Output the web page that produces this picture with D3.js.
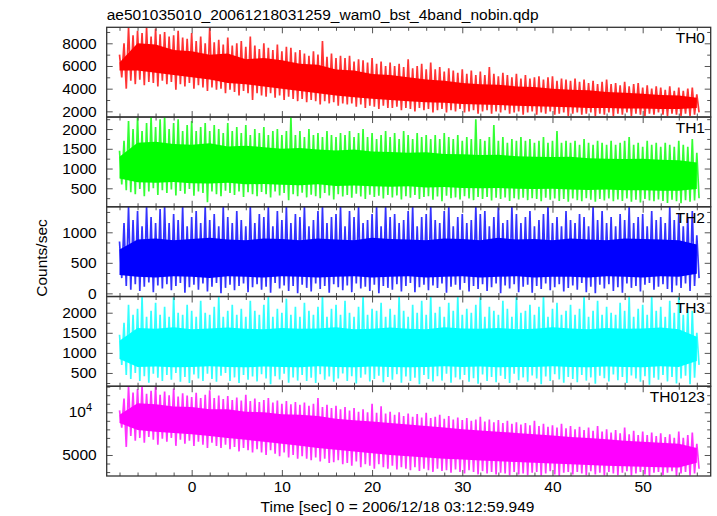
<!DOCTYPE html>
<html><head><meta charset="utf-8">
<script src="https://cdn.jsdelivr.net/npm/d3@7"></script>
<style>
body{margin:0;background:#fff}
svg{display:block}
text{font-family:"Liberation Sans",Arial,Helvetica,sans-serif;fill:#000}
</style>
</head><body>
<svg id="c" width="717" height="516"></svg>
<script>
const titleText = "ae501035010_20061218031259_wam0_bst_4band_nobin.qdp";
const xLabelText = "Time [sec] 0 = 2006/12/18 03:12:59.949";
const yLabelText = "Counts/sec";
const panelNames = ["TH0", "TH1", "TH2", "TH3", "TH0123"];
const panelColors = ["#ff0000", "#00ff00", "#0000ff", "#00ffff", "#ff00ff"];

// spike-envelope samples every 0.5 s from -8 s; dense core band every 2 s from -8 s
const tStart = -8, tStep = 0.5, coreStep = 2;

// ---- TH0 ----
const th0Hi = [7000,8000,9400,8700,9100,8900,9400,8600,9300,8800,
  9000,8600,8700,9100,8500,8400,8900,8200,8600,8000,
  9400,8100,8300,7900,8500,7800,8000,8200,7700,8600,
  7800,7500,8000,7600,7400,7900,7300,7700,7600,7200,
  7400,7100,6900,7300,7000,8200,6800,7100,6700,6900,
  6700,6900,6400,6600,6500,6300,6700,6200,6400,6000,
  6300,6000,6200,5900,6600,5800,6000,6200,5700,6300,
  5700,5900,5500,5800,5600,5400,5700,5300,5600,5200,
  5500,5200,5900,5300,5100,5400,5200,5000,5300,4900,
  5200,4900,5000,5100,4800,5000,5100,4700,4900,4800,
  4700,4900,4600,4800,4500,4700,4400,4600,4800,4400,
  4500,4300,4600,4200,4400,4500,4100,4300,4000,4200,
  4100,3900,4200,3800,4100,3800,4000,4100,3500];
const th0Lo = [5000,4000,4700,4400,4800,4300,4600,4500,4200,4700,
  4400,4600,3900,4400,4200,4500,4000,4300,4100,3800,
  4100,3900,4000,3600,3900,3700,3400,3800,3600,3000,
  3600,3400,3300,3600,3200,3400,3000,3300,3100,2900,
  3100,2800,3000,2900,2600,2900,2700,2800,2500,2700,
  2600,2700,2400,2600,2300,2500,2400,2200,2500,2300,
  2300,2400,2100,2300,2200,2000,2300,2100,2200,1900,
  2100,2200,1900,2100,2000,2200,1900,2000,2100,1800,
  2000,2100,1800,2000,1900,2100,1800,1900,2000,1700,
  1900,2000,1700,1900,1800,2000,1700,1800,1900,1600,
  1800,1900,1700,1800,1900,1600,1800,1700,1900,1600,
  1800,1700,1900,1600,1800,1700,1600,1800,1700,1900,
  1700,1600,1800,1700,1600,1800,1600,1700,1900];
const th0CoreHi = [6300,8000,7900,7400,7300,7000,7100,6600,6700,6500,6200,6100,5700,5600,5300,5200,5000,
  4800,4700,4500,4400,4350,4200,4150,4000,3900,3850,3700,3650,3550,3450,3400,3200];
const th0CoreLo = [5600,5600,5400,5200,5000,4800,4500,4400,4200,4000,3800,3600,3400,3250,3100,3000,2900,
  2800,2750,2650,2600,2550,2500,2450,2400,2350,2300,2300,2250,2250,2200,2200,2300];

// ---- TH1 ----
const th1Hi = [1450,1700,2200,2000,2300,1950,2150,2310,2050,2250,
  2310,2000,2150,2250,1950,2100,2200,1950,2050,2150,
  1950,2100,2000,1900,2150,1950,2050,1900,2100,1850,
  2000,1900,2050,1850,1950,2000,1850,1950,2310,1850,
  1950,1800,2000,1850,1900,1800,1950,1850,1800,1900,
  1850,1950,1800,1900,2000,1800,1900,1750,1850,1950,
  1800,1900,1750,1950,1850,1750,1900,1800,1850,1750,
  1850,1750,1900,1800,1750,1850,1700,1800,1750,2250,
  1750,1700,1800,2100,1700,1800,1650,1750,1700,1800,
  1700,1750,1650,1700,1800,1650,1700,1950,1650,1700,
  1650,1700,1600,1750,1650,1600,1700,1650,1600,1700,
  1600,1650,1700,1800,1600,1650,1550,1700,1600,1650,
  1550,1650,1600,1550,1700,1600,1550,1750,1400];
const th1Lo = [600,450,400,350,480,300,420,500,330,450,
  380,470,320,430,360,480,310,420,380,150,
  420,350,300,440,380,330,420,280,400,350,
  300,410,350,270,420,320,380,200,350,300,
  390,270,340,300,250,380,320,220,350,290,
  330,260,360,290,230,340,280,310,240,330,
  270,320,220,300,260,330,230,280,300,210,
  290,170,310,250,270,220,300,240,200,280,
  230,280,190,260,230,270,180,250,220,260,
  200,250,230,170,260,210,240,180,230,160,
  240,200,170,250,210,160,230,190,240,170,
  220,180,240,160,210,140,230,190,170,220,
  180,130,210,170,120,200,160,190,250];
const th1CoreHi = [1300,1650,1680,1620,1600,1640,1560,1580,1540,1500,1520,1480,1460,1480,1430,1420,1400,
  1410,1370,1360,1340,1350,1310,1300,1290,1300,1260,1250,1240,1250,1220,1210,1150];
const th1CoreLo = [750,650,640,660,630,620,640,600,610,590,580,600,560,570,550,540,550,
  520,530,510,500,510,490,480,490,470,460,470,450,450,440,440,480];

// ---- TH2 ----
const th2Hi = [850,1150,1420,1200,1350,1100,1420,1250,1150,1380,
  1420,1150,1300,1200,1420,1100,1250,1350,1150,1420,
  1200,1300,1100,1420,1250,1150,1350,1200,1100,1420,
  1150,1300,1250,1420,1100,1350,1200,1420,1150,1300,
  1250,1420,1100,1200,1350,1420,1150,1250,1300,1420,
  1100,1350,1250,1420,1150,1200,1300,1420,1100,1420,
  1250,1300,1150,1200,1350,1420,1100,1250,1300,1420,
  1200,1150,1350,1420,1100,1250,1300,1150,1200,1420,
  1300,1350,1100,1250,1420,1150,1200,1420,1300,1150,
  1250,1350,1100,1200,1300,1420,1150,1250,1100,1350,
  1200,1150,1300,1250,1100,1420,1200,1350,1150,1250,
  1100,1300,1200,1420,1150,1250,1300,1100,1350,1200,
  1250,1150,1420,1200,1300,1100,1250,1350,950];
const th2Lo = [250,120,60,150,40,110,180,20,130,80,
  150,50,120,170,10,100,140,60,160,30,
  110,170,0,90,140,50,120,160,20,100,
  150,60,110,10,170,80,130,40,120,0,
  140,90,30,160,70,120,10,150,100,50,
  130,20,160,80,110,40,140,0,120,90,
  60,150,30,120,170,20,100,140,50,130,
  90,160,10,110,140,60,170,30,120,70,
  150,40,100,160,0,130,80,150,20,110,
  140,10,120,70,160,50,100,150,30,90,
  130,60,170,20,110,0,140,80,150,40,
  100,10,160,90,120,30,140,170,60,110,
  150,70,20,130,90,160,40,120,250];
const th2CoreHi = [720,880,900,870,890,910,880,870,900,890,870,900,880,870,910,890,880,
  870,900,890,870,910,880,890,870,900,880,870,900,890,880,870,800];
const th2CoreLo = [300,270,260,280,270,250,280,270,260,280,270,260,270,280,260,270,280,
  260,270,280,260,270,280,260,270,270,260,280,270,260,280,270,320];

// ---- TH3 ----
const th3Hi = [1450,1750,2200,1950,2100,2403,1900,2050,2250,1950,
  2150,1900,2403,2000,1950,2200,2050,1900,2300,2000,
  1950,2150,2403,1900,2050,2200,1950,2100,1900,2300,
  2050,1950,2200,2403,1900,2100,2000,2350,1950,2150,
  1900,2250,2050,1950,2150,2403,1900,2100,2200,1950,
  2300,2000,1900,2150,2403,1950,2100,2050,2250,1900,
  2100,1950,2403,2050,1900,2200,2000,2300,1950,2403,
  2000,2150,1900,2250,2050,2403,1950,2100,2000,2200,
  2403,1900,2150,2050,1950,2300,2100,1900,2403,2000,
  2050,2200,1950,2150,2403,1900,2100,2250,1950,2050,
  2200,1950,2100,2403,1900,2050,2300,1950,2150,2000,
  1950,2250,2050,2403,1900,2100,2200,1950,2403,2050,
  2150,1900,2300,2000,2403,1950,2100,2050,1500];
const th3Lo = [700,450,350,500,300,420,260,480,380,300,
  450,330,500,280,400,250,460,360,300,480,
  350,280,430,500,300,390,250,450,330,410,
  290,470,360,220,420,340,480,260,390,310,
  450,300,380,250,470,330,410,280,360,490,
  300,420,240,380,460,290,350,430,270,400,
  330,470,260,410,300,380,220,450,350,290,
  420,310,480,260,390,340,450,280,370,230,
  460,300,400,270,430,350,250,480,320,390,
  280,440,360,220,410,300,470,340,260,400,
  350,270,450,310,390,230,430,370,290,460,
  320,400,250,440,360,280,420,210,380,330,
  450,290,400,240,360,430,220,380,700];
const th3CoreHi = [1300,1620,1600,1640,1590,1610,1630,1600,1590,1620,1600,1610,1640,1590,1600,1630,1600,
  1590,1640,1610,1600,1620,1590,1600,1640,1610,1590,1620,1600,1610,1630,1590,1400];
const th3CoreLo = [850,650,660,640,650,670,650,640,660,650,640,670,650,640,660,650,640,
  650,670,650,660,640,650,650,670,650,640,660,650,640,670,650,800];

// ---- TH0123 ----
const th0123Hi = [10300,12500,15300,13800,14600,15300,13500,14200,15300,13300,
  14000,13200,14700,12900,13600,13100,12800,13700,12600,13300,
  14300,12600,13100,12400,13000,12200,12700,12100,13300,12000,
  12500,11800,12200,12600,11700,12100,11500,12000,11400,11800,
  11300,11700,11100,11500,12600,10900,11300,10700,11100,10500,
  10900,10300,10700,10100,10500,10000,11500,9900,11000,9800,
  10100,9600,10000,9400,9800,9300,9700,9200,9900,9100,
  9300,9600,9000,9400,8900,9200,8800,9100,8700,8900,
  9300,8600,8900,8500,8800,8400,8700,8300,8500,8200,
  8400,8100,8700,8000,8300,7900,8100,7800,8300,7700,
  8000,7600,7900,7500,7800,7400,8000,7300,7600,7200,
  7500,7100,7800,7000,7400,6900,7300,6900,7200,6800,
  7100,6700,7000,6600,7300,6600,6900,7200,6000];
const th0123Lo = [7800,5700,6800,6300,6600,6100,6700,6400,5900,6500,
  6200,6600,5800,6400,6000,6300,5800,6200,5900,5600,
  6100,5800,5600,5900,5500,5700,5300,5600,5400,5200,
  5500,5200,5000,5400,5100,4900,5200,4800,5000,4700,
  4900,4700,4600,4800,4500,4700,4400,4450,4600,4300,
  4400,4200,4500,4100,4300,4200,4000,4300,4100,4000,
  4200,3950,4100,4000,3900,4100,3850,4000,3900,3800,
  4000,3850,3900,3750,3950,3800,3700,3900,3800,3650,
  3850,3700,3800,3650,3750,3700,3600,3800,3650,3700,
  3600,3750,3800,3580,3700,3850,3650,3560,3750,3800,
  3650,3800,3700,3600,3850,3650,3750,3580,3800,3700,
  3600,3750,3850,3580,3700,3800,3650,3560,3750,3800,
  3620,3750,3850,3560,3700,3800,3580,3700,4000];
const th0123CoreHi = [9600,11600,11400,11000,10900,10500,10500,10100,10000,9700,9600,9400,9000,8800,8600,8400,8200,
  8000,7800,7600,7450,7300,7150,7000,6850,6700,6600,6450,6300,6200,6100,6000,5600];
const th0123CoreLo = [8400,7500,7300,7150,7000,6800,6600,6400,6200,6000,5800,5600,5450,5300,5150,5000,4900,
  4800,4700,4650,4580,4520,4460,4400,4350,4300,4250,4200,4170,4130,4100,4080,4400];

// ---- axes ----
const xDomain = [-9.42, 57.54];
const xMajorTicks = [0, 10, 20, 30, 40, 50];
const xMinorStep = 2;
const yDomains = [[1497, 9412], [32, 2304], [-52, 1418], [169, 2403], [3555, 15254]];
const yMajorTicks = [[2000, 4000, 6000, 8000], [500, 1000, 1500, 2000], [0, 500, 1000], [500, 1000, 1500, 2000], [5000, 10000]];
const yMinorSteps = [1000, 250, 500 / 3, 250, null];

const envelopes = [[th0Lo, th0Hi], [th1Lo, th1Hi], [th2Lo, th2Hi], [th3Lo, th3Hi], [th0123Lo, th0123Hi]];
const cores = [[th0CoreLo, th0CoreHi], [th1CoreLo, th1CoreHi], [th2CoreLo, th2CoreHi], [th3CoreLo, th3CoreHi], [th0123CoreLo, th0123CoreHi]];

const svg = d3.select("#c");
svg.append("rect").attr("width", 717).attr("height", 516).attr("fill", "#fff");

const L = 106.7, R = 710.7, T = 27.3, PH = 89.74;
const FS = 15.5;
const x = d3.scaleLinear().domain(xDomain).range([L, R]);
const xMinor = d3.range(-8, xDomain[1], xMinorStep).filter(v => xMajorTicks.indexOf(v) < 0);

function styleTicks(g, w) {
  g.select(".domain").remove();
  g.selectAll(".tick line").attr("stroke", "#555").attr("stroke-width", w);
  g.selectAll(".tick text").remove();
}

panelNames.forEach((name, i) => {
  const top = T + i * PH, bot = top + PH;
  const y = (i === 4 ? d3.scaleLog() : d3.scaleLinear()).domain(yDomains[i]).range([bot, top]);
  const [lo, hi] = envelopes[i];
  const [cLo, cHi] = cores[i];
  const color = panelColors[i];

  svg.append("clipPath").attr("id", "cp" + i)
    .append("rect").attr("x", L).attr("y", top).attr("width", R - L).attr("height", PH);
  const g = svg.append("g").attr("clip-path", `url(#cp${i})`);

  // dense core of the trace
  const cIdx = d3.range(cHi.length);
  const area = d3.area().x(k => x(tStart + k * coreStep)).y0(k => y(cLo[k])).y1(k => y(cHi[k]));
  g.append("path").attr("d", area(cIdx)).attr("fill", color);

  // light-curve trace: alternate high / low excursions
  const pts = [];
  hi.forEach((v, j) => {
    pts.push([tStart + j * tStep, v]);
    pts.push([tStart + j * tStep + tStep / 2, lo[j]]);
  });
  g.append("path")
    .attr("d", d3.line().x(d => x(d[0])).y(d => y(d[1]))(pts))
    .attr("fill", "none").attr("stroke", color).attr("stroke-opacity", 0.8)
    .attr("stroke-width", 1.7).attr("stroke-linejoin", "miter").attr("stroke-miterlimit", 2);

  // tick values
  let yMinor;
  if (i === 4) {
    const st = Math.log10(2) / 5;
    const l0 = Math.log10(yDomains[i][0]), l1 = Math.log10(yDomains[i][1]);
    yMinor = d3.range(Math.ceil((l0 - 4) / st - 1e-9), Math.floor((l1 - 4) / st + 1e-9) + 1)
      .filter(k => k !== 0 && k !== -5).map(k => Math.pow(10, 4 + k * st));
  } else {
    const st = yMinorSteps[i];
    yMinor = d3.range(Math.ceil(yDomains[i][0] / st - 1e-9), Math.floor(yDomains[i][1] / st + 1e-9) + 1)
      .map(k => k * st).filter(v => !yMajorTicks[i].some(m => Math.abs(m - v) < 1e-6));
  }

  const tickGroups = [
    [d3.axisBottom(x).tickValues(xMajorTicks).tickSize(6), `translate(0,${top})`],
    [d3.axisBottom(x).tickValues(xMinor).tickSize(3.5), `translate(0,${top})`],
    [d3.axisTop(x).tickValues(xMajorTicks).tickSize(6), `translate(0,${bot})`],
    [d3.axisTop(x).tickValues(xMinor).tickSize(3.5), `translate(0,${bot})`],
    [d3.axisRight(y).tickValues(yMajorTicks[i]).tickSize(6), `translate(${L},0)`],
    [d3.axisRight(y).tickValues(yMinor).tickSize(3.5), `translate(${L},0)`],
    [d3.axisLeft(y).tickValues(yMajorTicks[i]).tickSize(6), `translate(${R},0)`],
    [d3.axisLeft(y).tickValues(yMinor).tickSize(3.5), `translate(${R},0)`]
  ];
  tickGroups.forEach(([ax, tr]) => {
    const a = svg.append("g").attr("transform", tr).call(ax);
    styleTicks(a, 1);
  });

  // y labels
  const yl = svg.append("g").attr("transform", `translate(${L},0)`)
    .call(d3.axisLeft(y).tickValues(yMajorTicks[i]).tickSize(0).tickPadding(10)
      .tickFormat(v => (i === 4 && v === 10000) ? "" : String(v)));
  yl.select(".domain").remove();
  yl.attr("font-size", null).attr("font-family", null);
  yl.selectAll("text").attr("font-size", FS).attr("fill", "#000");
  if (i === 4) {
    const t = svg.append("text").attr("x", 92).attr("y", y(10000) + 4.5)
      .attr("text-anchor", "end").attr("font-size", FS);
    t.append("tspan").text("10");
    t.append("tspan").attr("font-size", 11).attr("dy", -6).text("4");
  }

  // frame
  svg.append("rect").attr("x", L).attr("y", top).attr("width", R - L).attr("height", PH)
    .attr("fill", "none").attr("stroke", "#333").attr("stroke-width", 1.3);

  // panel name
  svg.append("text").attr("x", 705).attr("y", top + 16).attr("text-anchor", "end")
    .attr("font-size", FS).text(name);

  if (i === 4) {
    const xl = svg.append("g").attr("transform", `translate(0,${bot})`)
      .call(d3.axisBottom(x).tickValues(xMajorTicks).tickSize(0).tickPadding(5.3));
    xl.select(".domain").remove();
    xl.attr("font-size", null).attr("font-family", null);
    xl.selectAll("text").attr("font-size", FS).attr("fill", "#000");
  }
});

svg.append("text").attr("x", L).attr("y", 19.5).attr("font-size", FS).text(titleText);
svg.append("text").attr("x", 397.5).attr("y", 511.5).attr("text-anchor", "middle")
  .attr("font-size", FS).text(xLabelText);
svg.append("text").attr("transform", "translate(46.5,258) rotate(-90)")
  .attr("text-anchor", "middle").attr("font-size", FS).text(yLabelText);
</script>
</body></html>
